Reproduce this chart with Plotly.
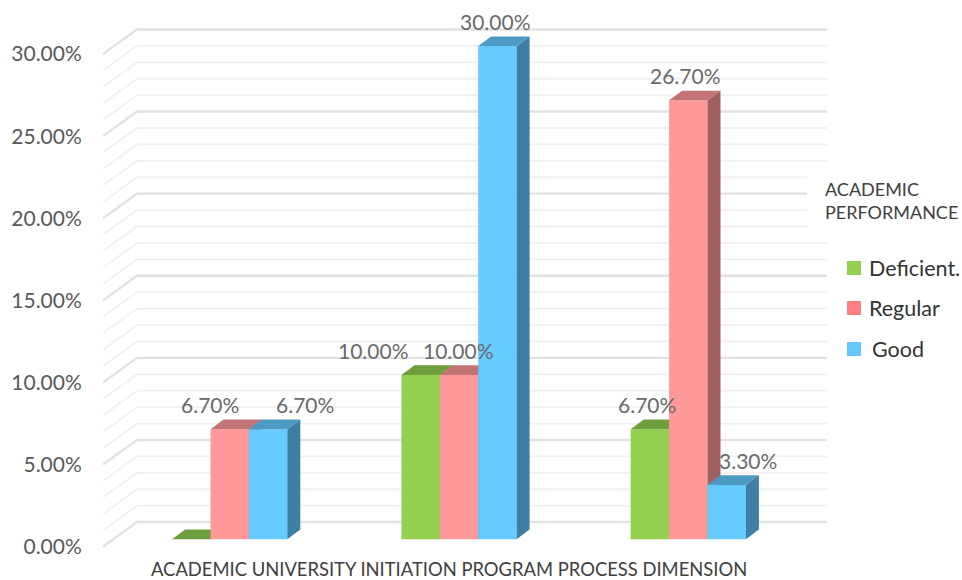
import plotly.graph_objects as go

# Chart values (percent of students per academic performance level)
groups = [0, 1, 2]
series_names = ["Deficient.", "Regular", "Good"]
deficient = [0.0, 10.0, 6.7]
regular = [6.7, 10.0, 26.7]
good = [6.7, 30.0, 3.3]
series_values = [deficient, regular, good]
axis_title = "ACADEMIC UNIVERSITY INITIATION PROGRAM PROCESS DIMENSION"
legend_title = "ACADEMIC<br>PERFORMANCE"

# Colours for front, top and side faces of each series
front_colors = ["#92D050", "#FF9999", "#66CCFF"]
top_colors = ["#6F9E3D", "#C27474", "#4D9AC2"]
side_colors = ["#6F9E3D", "#A16060", "#3F7FA6"]
swatch_colors = ["#92D050", "#FF8080", "#66C8FF"]

FONT = "Lato"
TICK_SIZE = 21
W, H = 962, 580
LEFT = 103

# Axis calibration: one x unit is the spacing between groups
X_UNIT = 229.3
X_ZERO = 229.7
x_range = [(LEFT - X_ZERO) / X_UNIT, (W - X_ZERO) / X_UNIT]
wall_scale = 16.42
wall_zero = 546.7
bar_scale = 16.44
bar_zero = 539.3
wall_range = [(wall_zero - H) / wall_scale, wall_zero / wall_scale]
bar_range = [(bar_zero - H) / bar_scale, bar_zero / bar_scale]

bar_w = 38.4 / X_UNIT
depth_x = 13 / X_UNIT
depth_y = 9.7 / bar_scale
wall_dx = 34 / X_UNIT
wall_dy = 1.5
wall_right = (827 - X_ZERO) / X_UNIT


def px(x):
    return (x - LEFT) / (W - LEFT)


def py(y):
    return (H - y) / H


fig = go.Figure()


# Receding floor-to-wall grid lines, every 1% with heavier ones every 5%
def wall_trace(levels, color, width):
    xs, ys = [], []
    for v in levels:
        xs += [x_range[0], x_range[0] + wall_dx, wall_right, None]
        ys += [v, v + wall_dy, v + wall_dy, None]
    return go.Scatter(x=xs, y=ys, mode="lines", line=dict(color=color, width=width),
                      hoverinfo="skip", showlegend=False, yaxis="y")


fig.add_trace(wall_trace([v for v in range(31) if v % 5], "#F1F1F1", 1.8))
fig.add_trace(wall_trace([v for v in range(31) if v % 5 == 0], "#E2E2E2", 2.4))


def face_trace(polys, color, axis):
    xs, ys = [], []
    for poly in polys:
        xs += [p[0] for p in poly] + [poly[0][0], None]
        ys += [p[1] for p in poly] + [poly[0][1], None]
    return go.Scatter(x=xs, y=ys, mode="lines", fill="toself", fillcolor=color,
                      line=dict(width=0), hoverinfo="skip", showlegend=False, yaxis=axis)


# Each series sits on its own overlaid axis so later series paint over earlier ones
for i, values in enumerate(series_values):
    axis = f"y{i + 2}"
    centers = [g + (i - 1) * bar_w for g in groups]
    tops, sides = [], []
    for c, v in zip(centers, values):
        l, r = c - bar_w / 2, c + bar_w / 2
        tops.append([(l, v), (r, v), (r + depth_x, v + depth_y), (l + depth_x, v + depth_y)])
        sides.append([(r, 0), (r, v), (r + depth_x, v + depth_y), (r + depth_x, depth_y)])
    fig.add_trace(go.Bar(x=centers, y=values, width=bar_w, name=series_names[i],
                         marker=dict(color=front_colors[i], line=dict(width=0)),
                         yaxis=axis, showlegend=False))
    fig.add_trace(face_trace(sides, side_colors[i], axis))
    fig.add_trace(face_trace(tops, top_colors[i], axis))

# Value labels; a zero value carries no label
label_dx = [[None, -47, -3], [-20, -1, -3], [37, -2, 21]]
annotations = []
for i, values in enumerate(series_values):
    for g, v, dx in zip(groups, values, label_dx[i]):
        if v == 0:
            continue
        annotations.append(dict(x=g + (i - 1) * bar_w, y=v, yref=f"y{i + 2}", xref="x",
                                text=f"{v:.2f}%", showarrow=False, xshift=dx, yshift=24.5,
                                xanchor="center", yanchor="middle",
                                font=dict(family=FONT, size=TICK_SIZE, color="#6A6A6A")))

annotations.append(dict(x=px(449), y=py(568.5), xref="paper", yref="paper", text=axis_title,
                        showarrow=False, xanchor="center", yanchor="middle",
                        font=dict(family=FONT, size=18.4, color="#404040")))
annotations.append(dict(x=px(823), y=py(201), xref="paper", yref="paper", text=legend_title,
                        showarrow=False, xanchor="left", yanchor="middle", align="left",
                        font=dict(family=FONT, size=18, color="#404040")))

# Hand-placed key with the series names
legend_y = [268, 308, 349]
legend_text_x = [867, 867, 870]
shapes = [dict(type="rect", xref="paper", yref="paper", x0=px(807), x1=px(830), y0=py(168), y1=py(235),
               fillcolor="white", line=dict(width=0), layer="above")]
for name, color, y, tx in zip(series_names, swatch_colors, legend_y, legend_text_x):
    shapes.append(dict(type="rect", xref="paper", yref="paper", x0=px(847), x1=px(861),
                       y0=py(y - 7), y1=py(y + 7), fillcolor=color, line=dict(width=0), layer="above"))
    annotations.append(dict(x=px(tx), y=py(y), xref="paper", yref="paper", text=name, showarrow=False,
                            xanchor="left", yanchor="middle",
                            font=dict(family=FONT, size=21.5, color="#333333")))

hidden = dict(visible=False, overlaying="y", range=bar_range, side="left")
fig.update_layout(
    width=W, height=H, margin=dict(l=LEFT, r=0, t=0, b=0),
    paper_bgcolor="white", plot_bgcolor="white", barmode="overlay", showlegend=False,
    xaxis=dict(range=x_range, visible=False),
    yaxis=dict(range=wall_range, tick0=0, dtick=5, tickformat=".2f", ticksuffix="%",
               showgrid=False, zeroline=False, showline=False, ticks="outside", ticklen=16,
               tickcolor="rgba(0,0,0,0)",
               tickfont=dict(family=FONT, size=TICK_SIZE, color="#595959")),
    yaxis2=hidden, yaxis3=hidden, yaxis4=hidden,
    annotations=annotations, shapes=shapes,
)

fig.write_html("out.html")
